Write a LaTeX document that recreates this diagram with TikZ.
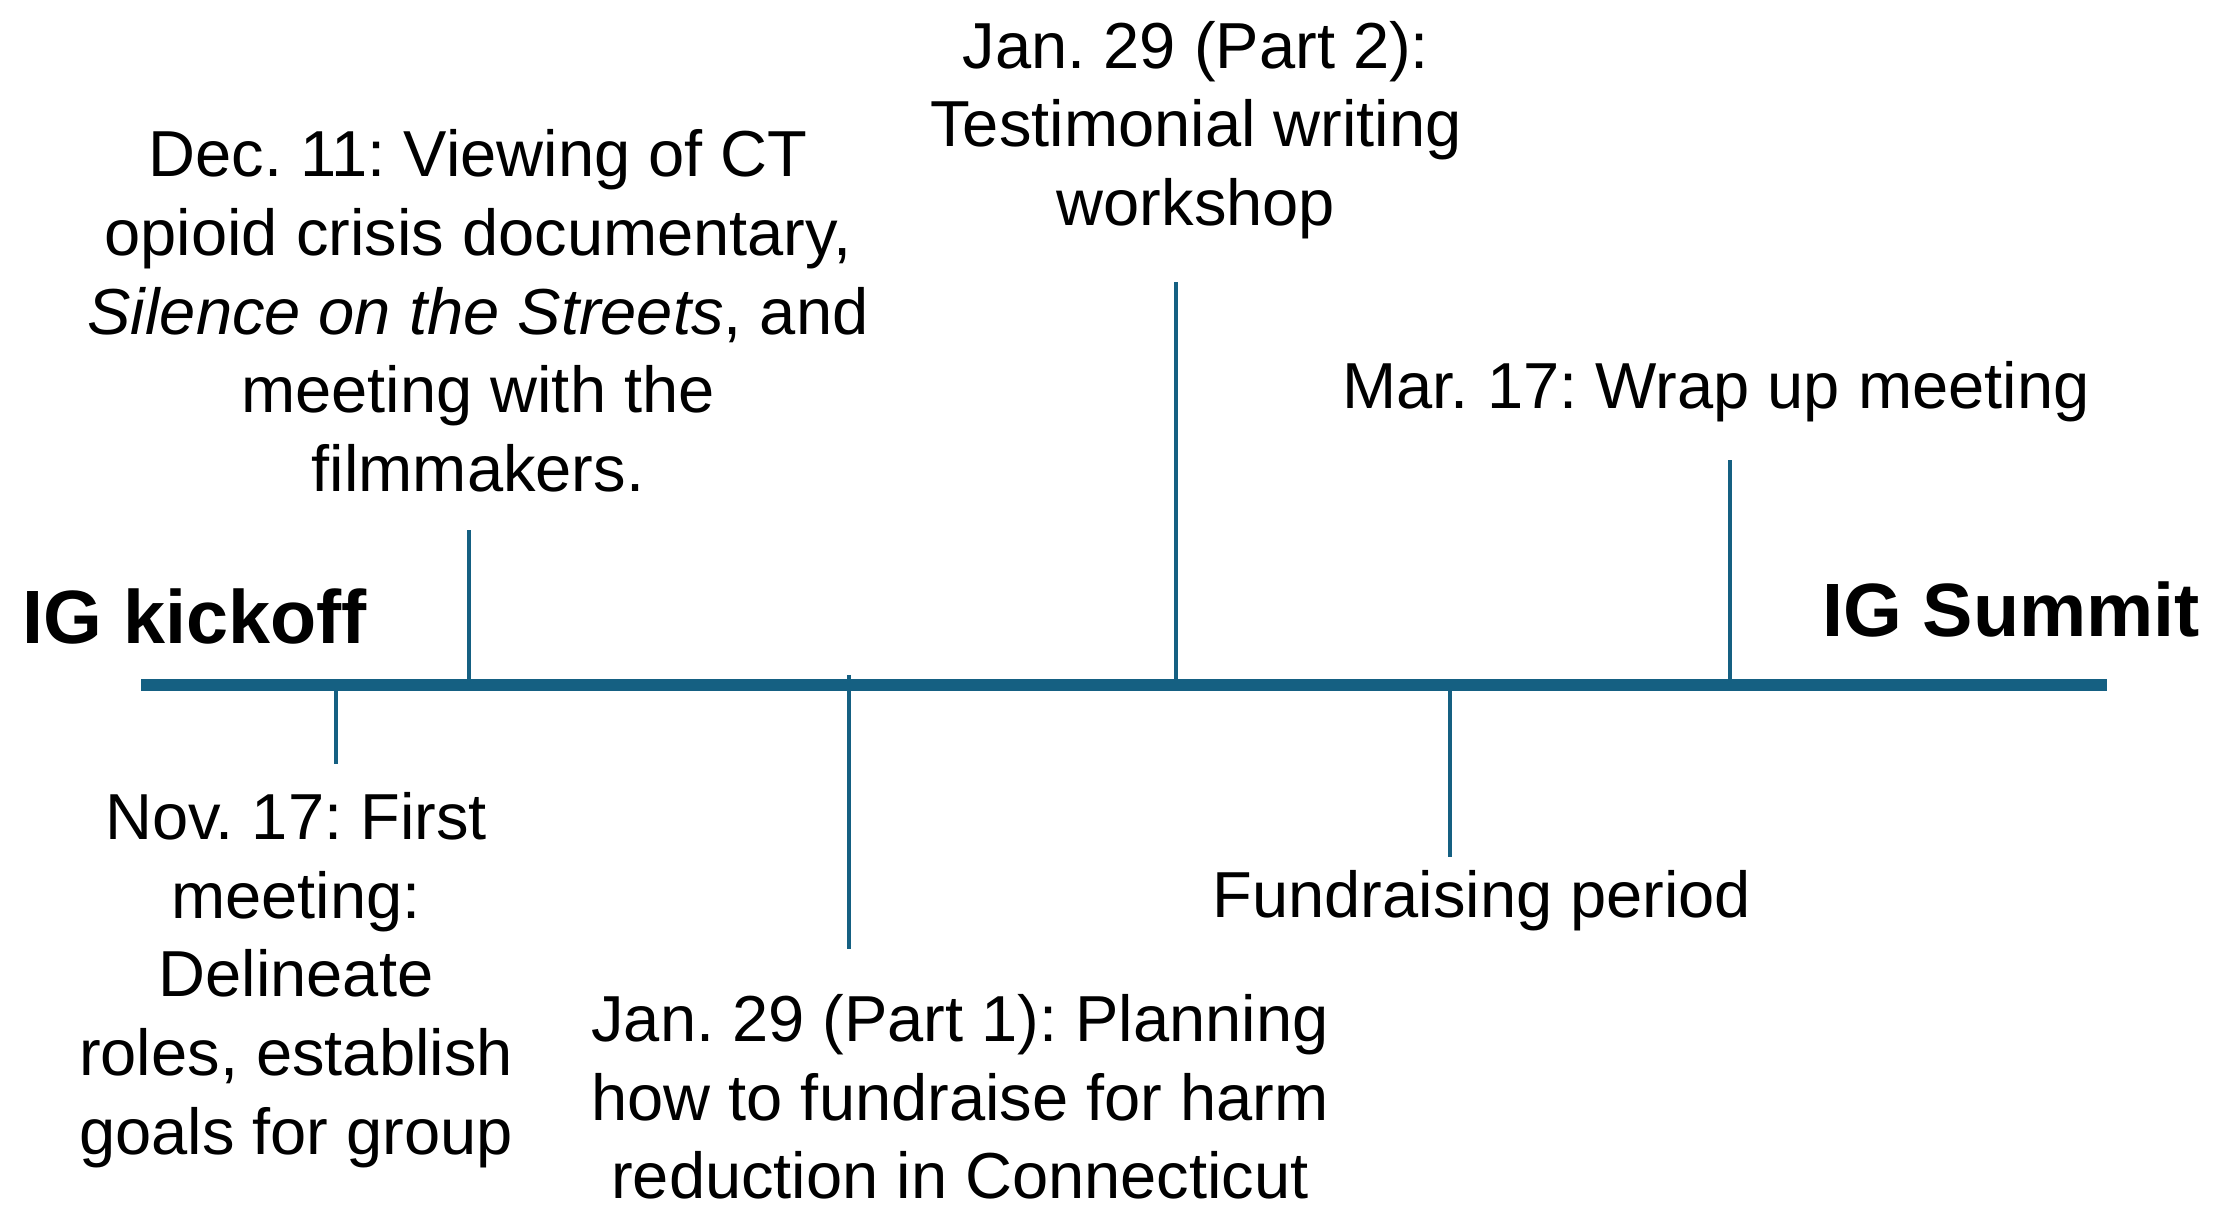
\documentclass[tikz,border=0pt]{standalone}
\usepackage{fontspec}
\setmainfont{Liberation Sans}
\usepackage{tikz}
\definecolor{tlblue}{RGB}{21,96,130}
\frenchspacing

\begin{document}
\begin{tikzpicture}[
    evt/.style={align=center, inner sep=0pt, font=\fontsize{18.5}{22.4}\selectfont},
    ends/.style={inner sep=0pt, font=\fontsize{21.5}{25}\selectfont\bfseries},
    tickln/.style={color=tlblue, line width=1.15pt},
    axis/.style={color=tlblue, line width=3.4pt}]
    \useasboundingbox (0,0) rectangle (22.14,12.12);

    %axis
    \coordinate (start) at (1.41,5.27);
    \coordinate (stop) at (21.07,5.27);
    \draw[axis] (start) -- (stop);
    \node[ends] (kick) at (1.95,5.96) {IG kickoff};
    \node[ends] (summit) at (20.11,6.03) {IG Summit};

    %below
    \coordinate (novA) at (3.36,5.27);
    \coordinate (novB) at (3.36,4.48);
    \draw[tickln] (novA) -- (novB);
    \node[evt] (nov) at (2.96,2.32) {Nov. 17: First\\ meeting:\\ Delineate\\ roles, establish\\ goals for group};

    \coordinate (janAa) at (8.49,5.37);
    \coordinate (janAb) at (8.49,2.63);
    \draw[tickln] (janAa) -- (janAb);
    \node[evt] (janA) at (9.60,1.15) {Jan. 29 (Part 1): Planning\\ how to fundraise for harm\\ reduction in Connecticut};

    \coordinate (fundA) at (14.50,5.27);
    \coordinate (fundB) at (14.50,3.55);
    \draw[tickln] (fundA) -- (fundB);
    \node[evt] (fund) at (14.82,3.11) {Fundraising period};

    %above
    \coordinate (decA) at (4.69,5.27);
    \coordinate (decB) at (4.69,6.82);
    \draw[tickln] (decA) -- (decB);
    \node[evt] (dec) at (4.78,9.01) {Dec. 11: Viewing of CT\\ opioid crisis documentary,\\ \textit{Silence on the Streets}, and\\ meeting with the\\ filmmakers.};

    \coordinate (janBa) at (11.76,5.27);
    \coordinate (janBb) at (11.76,9.30);
    \draw[tickln] (janBa) -- (janBb);
    \node[evt] (janB) at (11.96,10.82) {Jan. 29 (Part 2):\\ Testimonial writing\\ workshop};

    \coordinate (marA) at (17.30,5.27);
    \coordinate (marB) at (17.30,7.52);
    \draw[tickln] (marA) -- (marB);
    \node[evt] (mar) at (17.16,8.20) {Mar. 17: Wrap up meeting};
\end{tikzpicture}
\end{document}
